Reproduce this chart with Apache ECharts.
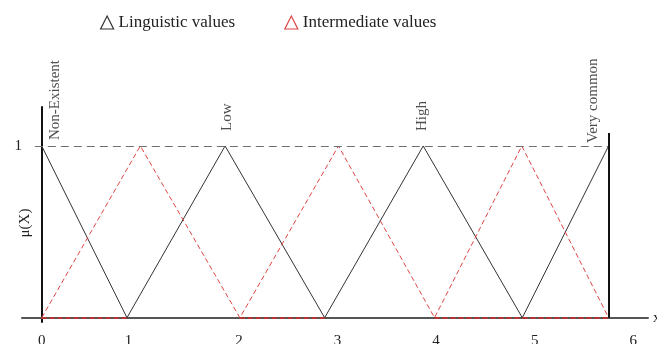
<!DOCTYPE html>
<html><head><meta charset="utf-8">
<script src="https://cdn.jsdelivr.net/npm/echarts@6/dist/echarts.min.js"></script>
<style>html,body{margin:0;padding:0;background:#fff}#c{width:657px;height:344px}</style>
</head><body><div id="c"></div>
<script>
// ---- data ----
const xTickLabels = ['0', '1', '2', '3', '4', '5', '6'];
const xTickValues = [0, 0.88, 2, 3, 4, 5, 6];
const yTickValues = [1];
const linguisticX = [0, 0.865, 1.86, 2.87, 3.87, 4.875, 5.75];
const linguisticY = [1, 0, 1, 0, 1, 0, 1];
const intermediateX = [0, 1.0, 2.01, 3.01, 3.985, 4.87, 5.75];
const intermediateY = [0, 1, 0, 1, 0, 1, 0];
const intermediateBaseFrom = [0, 2.01, 3.985];
const intermediateBaseTo = [0.865, 2.87, 5.75];
const termNames = ['Non-Existent', 'Low', 'High', 'Very common'];
const termPeakX = [0, 1.86, 3.87, 5.75];

const FONT = 'Liberation Serif';
const BLACK = '#333';
const RED = '#e04545';

// label offsets are in the rotated label frame: [-screenDy, screenDx]
const termOffsets = [[6, 13], [15, 2], [15, -1.5], [3, -16]];

const chart = echarts.init(document.getElementById('c'));
chart.setOption({
  animation: false,
  backgroundColor: '#fff',
  textStyle: { fontFamily: FONT },
  legend: {
    left: 95, top: 9,
    itemWidth: 13, itemHeight: 13, itemGap: 49,
    textStyle: { fontFamily: FONT, fontSize: 17, color: '#222' },
    data: [
      { name: 'Linguistic values', icon: 'triangle', itemStyle: { color: 'rgba(0,0,0,0)', borderColor: '#333', borderWidth: 1.2 } },
      { name: 'Intermediate values', icon: 'triangle', itemStyle: { color: 'rgba(0,0,0,0)', borderColor: RED, borderWidth: 1.2 } }
    ]
  },
  grid: { left: 22, right: 9, top: 107, bottom: 22, containLabel: false, outerBoundsMode: 'none' },
  xAxis: {
    type: 'value', min: -0.2, max: 6.15,
    axisLine: { show: true, onZero: true, lineStyle: { color: '#555', width: 2 } },
    axisTick: { show: false },
    splitLine: { show: false },
    axisLabel: {
      customValues: xTickValues, margin: 12,
      fontFamily: FONT, fontSize: 15, color: '#222',
      formatter: function (v) {
        let best = 0, d = 1e9;
        xTickValues.forEach(function (t, i) { if (Math.abs(t - v) < d) { d = Math.abs(t - v); best = i; } });
        return xTickLabels[best];
      }
    },
    name: 'x', nameLocation: 'end', nameGap: 5,
    nameTextStyle: { fontFamily: FONT, fontSize: 15, color: '#222' }
  },
  yAxis: {
    type: 'value', min: -0.025, max: 1.227,
    axisLine: { show: true, onZero: true, lineStyle: { color: '#111', width: 2 } },
    axisTick: { show: false },
    splitLine: { show: false },
    axisLabel: { customValues: yTickValues, margin: 0, fontFamily: FONT, fontSize: 15, color: '#222', formatter: function (v) { return String(Math.round(v)); } },
    name: 'μ(X)', nameLocation: 'middle', nameGap: -11, nameMoveOverlap: false,
    nameTextStyle: { fontFamily: FONT, fontSize: 15, color: '#222', padding: [0, 17, 0, 0] }
  },
  series: [
    {
      name: 'Linguistic values', type: 'line', symbol: 'none', silent: true,
      data: linguisticX.map(function (x, i) { return [x, linguisticY[i]]; }),
      lineStyle: { color: BLACK, width: 1 },
      itemStyle: { color: BLACK },
      z: 3,
      markLine: {
        silent: true, symbol: 'none', label: { show: false },
        data: [
          [{ coord: [-0.07, 1], lineStyle: { color: '#707070', width: 1, type: [8, 5] } }, { coord: [termPeakX[3], 1] }],
          [{ coord: [termPeakX[3], 0], lineStyle: { color: '#111', width: 2, type: 'solid' } }, { coord: [termPeakX[3], 1.075] }]
        ]
      }
    },
    {
      name: 'Intermediate values', type: 'line', symbol: 'none', silent: true,
      data: intermediateX.map(function (x, i) { return [x, intermediateY[i]]; }),
      lineStyle: { color: RED, width: 1, type: [5, 3] },
      itemStyle: { color: RED },
      z: 4,
      markLine: {
        silent: true, symbol: 'none', label: { show: false },
        lineStyle: { color: '#d42a2a', width: 1.5, type: [5, 3] },
        data: intermediateBaseFrom.map(function (a, i) { return [{ coord: [a, 0] }, { coord: [intermediateBaseTo[i], 0] }]; })
      }
    },
    {
      name: 'terms', type: 'scatter', symbolSize: 0, silent: true, z: 5,
      data: termNames.map(function (n, i) {
        return { name: n, value: [termPeakX[i], 1], label: { offset: termOffsets[i] } };
      }),
      label: {
        show: true, formatter: '{b}', position: 'inside', rotate: 90,
        align: 'left', verticalAlign: 'middle',
        fontFamily: FONT, fontSize: 15, color: '#222'
      }
    }
  ]
});
</script>
</body></html>
